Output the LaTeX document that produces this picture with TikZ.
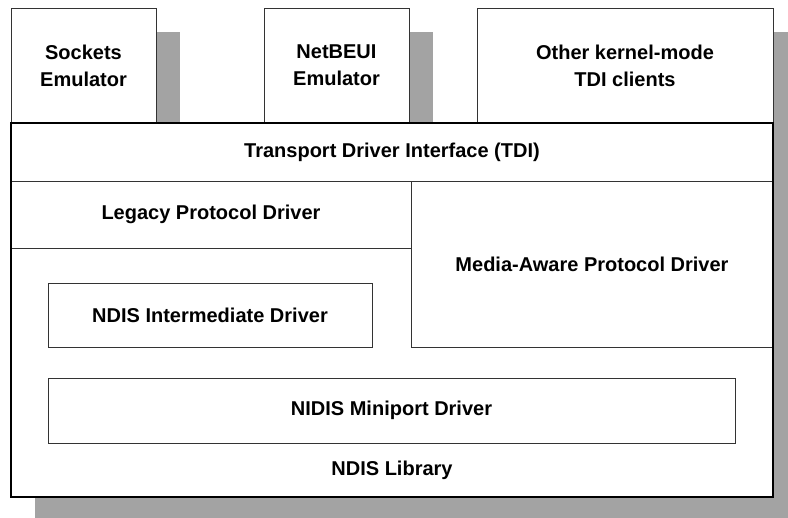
\documentclass[tikz,border=0pt]{standalone}
\usepackage{fontspec}
\setmainfont{Liberation Sans}
\begin{document}
\begin{tikzpicture}[x=1pt,y=-1pt,
  lbl/.style={font=\fontsize{20}{27}\selectfont\bfseries, align=center},
  box/.style={draw=black!80, line width=0.8pt, fill=white, inner sep=0pt, outer sep=0pt, anchor=north west, lbl},
  outer/.style={draw=black, line width=1.5pt, inner sep=0pt, outer sep=0pt, anchor=north west},
  shadow/.style={fill=black!36}]
\useasboundingbox (0,0) rectangle (788,518);
\begin{scope}
  \clip (0,0) rectangle (788,518);
  \fill[shadow] (35,32) rectangle (180,147);
  \fill[shadow] (288,32) rectangle (433,147);
  \fill[shadow] (501,32) rectangle (800,147);
  \fill[shadow] (35,147) rectangle (800,530);
\end{scope}
% main NDIS library box
\node[outer, fill=white, minimum width=762pt, minimum height=374pt] (ndis) at (11,123) {};
% top clients
\node[box, minimum width=145pt, minimum height=115pt] (sock) at (11,8) {Sockets\\Emulator};
\node[box, minimum width=145pt, minimum height=115pt] (netb) at (264,8) {NetBEUI\\Emulator};
\node[box, minimum width=296pt, minimum height=115pt] (other) at (477,8) {Other kernel-mode\\TDI clients};
% layers
\node[box, minimum width=762pt, minimum height=58pt] (tdi) at (11,123) {Transport Driver Interface (TDI)};
\node[box, minimum width=400pt, minimum height=67pt] (legacy) at (11,181) {Legacy Protocol Driver};
\node[box, minimum width=362pt, minimum height=166pt] (media) at (411,181) {Media-Aware Protocol Driver};
\node[box, minimum width=324pt, minimum height=64pt] (inter) at (48,283) {NDIS Intermediate Driver};
\node[box, minimum width=687pt, minimum height=65pt] (mini) at (48,378) {NIDIS Miniport Driver};
\node[lbl] (lib) at (392,470) {NDIS Library};
% redraw main outline on top
\draw[line width=1.5pt] (ndis.north west) rectangle (ndis.south east);
\end{tikzpicture}
\end{document}
